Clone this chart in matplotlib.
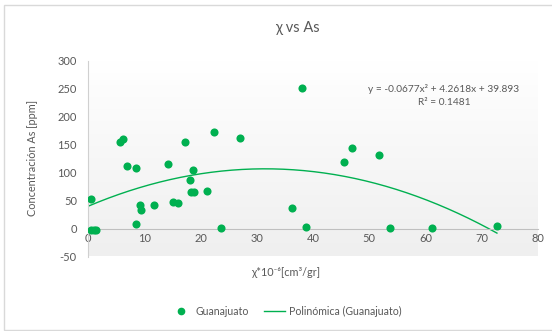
import numpy as np
import matplotlib.pyplot as plt
from matplotlib.lines import Line2D
from matplotlib.patches import Rectangle
from matplotlib.colors import LinearSegmentedColormap

plt.rcParams['font.family'] = ['Lato', 'DejaVu Sans']
plt.rcParams['axes.unicode_minus'] = False

# Susceptibility (x) and arsenic concentration (y) per sample
chi = [0.5, 0.6, 1.1, 1.5, 5.7, 6.3, 7.0, 8.6, 8.6, 9.3, 9.4, 11.7, 14.2, 15.2, 16.0,
       17.3, 18.1, 18.7, 18.3, 18.8, 21.1, 22.4, 23.6, 27.0, 36.3, 38.0, 38.8,
       45.5, 47.0, 51.8, 53.7, 61.1, 72.7]
arsenic = [53, -3, -3, -2, 155, 160, 112, 109, 8, 43, 34, 43, 115, 47, 45.5,
           155, 87.6, 105, 65, 65, 68, 173, 0.5, 162, 37, 251, 3,
           120, 145, 132.5, 1, 1, 5]

# Quadratic trend coefficients (a*x^2 + b*x + c)
coef = [-0.0677, 4.2618, 39.893]
r2 = 0.1481

x_ticks = [0, 10, 20, 30, 40, 50, 60, 70, 80]
y_ticks = [-50, 0, 50, 100, 150, 200, 250, 300]

green = '#00B050'
txt = '#595959'
axis_gray = '#BFBFBF'

W, H = 552, 331
fig = plt.figure(figsize=(W / 100, H / 100), dpi=100)

# chart frame
fig.patches.append(Rectangle((4 / W, 1.5 / H), (W - 3) / W, (H - 6) / H,
                             transform=fig.transFigure, fill=False,
                             edgecolor='#D9D9D9', linewidth=1.0))

ax = fig.add_axes([88 / W, (H - 256.5) / H, 450 / W, 195.5 / H])
ax.set_xlim(0, 80)
ax.set_ylim(-50, 300)

# plot-area gradient from white to light gray
grad = np.linspace(1.0, 0.0, 256).reshape(-1, 1)
ax.imshow(grad, extent=[0, 1, 0, 1], transform=ax.transAxes, aspect='auto',
          cmap=LinearSegmentedColormap.from_list('bg', ['#EFEFEF', '#FFFFFF']),
          zorder=0, vmin=0, vmax=1)

for s in ['top', 'right']:
    ax.spines[s].set_visible(False)
ax.spines['left'].set_color('#D0D0D0')
ax.spines['left'].set_linewidth(0.8)
ax.spines['bottom'].set_position(('data', 0))
ax.spines['bottom'].set_color(axis_gray)
ax.spines['bottom'].set_linewidth(0.8)

ax.set_xticks(x_ticks)
ax.set_yticks(y_ticks)
ax.tick_params(length=0, labelsize=8, colors=txt, pad=3)
ax.tick_params(axis='y', pad=8)

ax.scatter(chi, arsenic, s=34, color=green, zorder=3, linewidths=0)

xs = np.linspace(0, max(chi), 200)
ys = np.polyval(coef, xs)
ax.plot(xs, ys, color=green, linewidth=1.0, zorder=2)

eq = f"y = {coef[0]}x² + {coef[1]}x + {coef[2]}\nR² = {r2}"
ax.text(63.3, 258, eq, ha='center', va='top', fontsize=7.3, color=txt,
        linespacing=1.45, multialignment='center')

fig.text(297 / W, 1 - 28 / H, 'χ vs As', ha='center', va='center',
         fontsize=10.5, color=txt)
fig.text(33 / W, 1 - 158 / H, 'Concentración As [ppm]', rotation=90,
         ha='center', va='center', fontsize=7.8, color=txt)
fig.text(286 / W, 1 - 272 / H, 'χ*10⁻⁶[cm³/gr]', ha='center', va='center',
         fontsize=7.8, color=txt)

handles = [Line2D([], [], marker='o', linestyle='none', color=green, markersize=4.5),
           Line2D([], [], color=green, linewidth=1.0)]
fig.legend(handles, ['Guanajuato', 'Polinómica (Guanajuato)'], loc='center',
           bbox_to_anchor=(286 / W, 1 - 311.5 / H), ncol=2, frameon=False,
           fontsize=7.6, labelcolor=txt, handlelength=2.0, columnspacing=1.5,
           handletextpad=0.3)

fig.savefig('out.png', dpi=100)
